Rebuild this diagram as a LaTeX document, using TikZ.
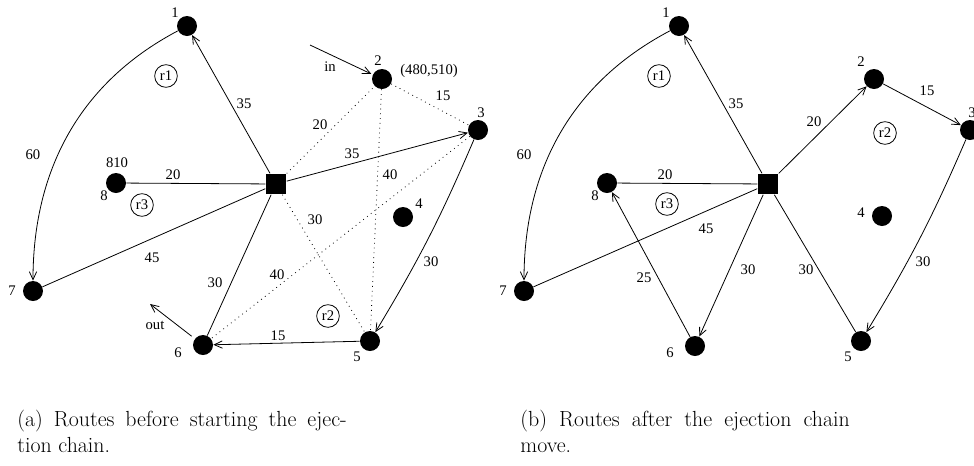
\documentclass[tikz,border=0pt]{standalone}
\usepackage{fontspec}
\newfontfamily\labelfont{Liberation Serif}
\usetikzlibrary{arrows.meta}

\tikzset{every picture/.style={line width=0.6pt},
  client/.style={circle,fill=black,inner sep=0pt,minimum size=15pt},
  depot/.style={rectangle,fill=black,inner sep=0pt,minimum size=15.5pt},
  routename/.style={circle,draw,inner sep=0pt,minimum size=17pt,font=\labelfont\fontsize{11}{13}\selectfont},
  lbl/.style={inner sep=0.75pt,font=\labelfont\fontsize{11}{13}\selectfont},
  arc/.style={-{Straight Barb[length=6pt,width=5.5pt]}},
  cand/.style={dash pattern={on 0.6pt off 3pt}},
  capt/.style={anchor=north west,inner sep=0pt,text width=247pt,align=justify,font=\fontsize{16.4}{19.5}\selectfont}}

\begin{document}
\begin{tikzpicture}[x=0.75pt,y=0.75pt,yscale=-1,xscale=1]
		\useasboundingbox (0,0) rectangle (974,465);
		
		%%% (a) before the move
		%Shape: Depot [id:dA]
		\node [depot] (dA) at (276,184) {};
		%Shape: Clients
		\node [client] (a1) at (187,26) {};
		\node [client] (a2) at (382,79) {};
		\node [client] (a3) at (478,130) {};
		\node [client] (a4) at (403,217) {};
		\node [client] (a5) at (370,341) {};
		\node [client] (a6) at (203,345) {};
		\node [client] (a7) at (33,291) {};
		\node [client] (a8) at (116,183) {};
		
		%Route r1
		\draw [arc] (dA) -- (a1) ;
		\draw [arc] (a1) to[out=148,in=270] (a7) ;
		\draw (a7) -- (dA) ;
		%Route r2
		\draw [arc] (dA) -- (a3) ;
		\draw [arc] (a3) to[bend right=4] (a5) ;
		\draw [arc] (a5) -- (a6) ;
		\draw (a6) -- (dA) ;
		%Route r3
		\draw (a8) -- (dA) ;
		%Candidate arcs for client 2
		\draw [cand] (dA) -- (a2) ;
		\draw [cand] (a2) -- (a3) ;
		\draw [cand] (a2) -- (a5) ;
		\draw [cand] (dA) -- (a5) ;
		\draw [cand] (a3) -- (a6) ;
		
		%Insertion and removal
		\coordinate (inA) at (310,45) ;
		\coordinate (outA) at (150,304) ;
		\draw [arc,shorten >=1pt] (inA) -- (a2) ;
		\draw [arc,shorten <=3pt] (a6) -- (outA) ;
		
		% Text Node
		\node [lbl] (ta1) at (175,13) {1};
		\node [lbl] (ta2) at (378,61) {2};
		\node [lbl] (tc2) at (429,71) {(480,510)};
		\node [lbl] (ta3) at (481,113) {3};
		\node [lbl] (ta4) at (419,204) {4};
		\node [lbl] (ta5) at (357,357) {5};
		\node [lbl] (ta6) at (178,353) {6};
		\node [lbl] (ta7) at (12,291) {7};
		\node [lbl] (ta8) at (104,196) {8};
		\node [lbl] (tc8) at (117,163) {810};
		\node [lbl] (tin) at (330,67) {in};
		\node [lbl] (tout) at (155,325) {out};
		% Arc costs
		\node [lbl] (ca1) at (244,104) {35};
		\node [lbl] (ca2) at (33,155) {60};
		\node [lbl] (ca3) at (152,258) {45};
		\node [lbl] (ca4) at (352,154) {35};
		\node [lbl] (ca5) at (431,262) {30};
		\node [lbl] (ca6) at (278,336) {15};
		\node [lbl] (ca7) at (215,283) {30};
		\node [lbl] (ca8) at (173,175) {20};
		\node [lbl] (ca9) at (320,125) {20};
		\node [lbl] (ca10) at (443,96) {15};
		\node [lbl] (ca11) at (390,175) {40};
		\node [lbl] (ca12) at (315,220) {30};
		\node [lbl] (ca13) at (277,275) {40};
		% Route names
		\node [routename] (ra1) at (166,76) {r1};
		\node [routename] (ra2) at (328,316) {r2};
		\node [routename] (ra3) at (142,205) {r3};
		
		%%% (b) after the move
		%Shape: Depot [id:dB]
		\node [depot] (dB) at (768,184) {};
		%Shape: Clients
		\node [client] (b1) at (679,26) {};
		\node [client] (b2) at (874,79) {};
		\node [client] (b3) at (970,130) {};
		\node [client] (b4) at (882,216) {};
		\node [client] (b5) at (861,341) {};
		\node [client] (b6) at (695,346) {};
		\node [client] (b7) at (524,291) {};
		\node [client] (b8) at (607,183) {};
		
		%Route r1
		\draw [arc] (dB) -- (b1) ;
		\draw [arc] (b1) to[out=148,in=270] (b7) ;
		\draw (b7) -- (dB) ;
		%Route r2
		\draw [arc] (dB) -- (b2) ;
		\draw [arc] (b2) -- (b3) ;
		\draw [arc] (b3) to[bend right=4] (b5) ;
		\draw (b5) -- (dB) ;
		%Route r3
		\draw [arc] (dB) -- (b6) ;
		\draw [arc] (b6) -- (b8) ;
		\draw (b8) -- (dB) ;
		
		% Text Node
		\node [lbl] (tb1) at (666,13) {1};
		\node [lbl] (tb2) at (861,62) {2};
		\node [lbl] (tb3) at (972,113) {3};
		\node [lbl] (tb4) at (861,213) {4};
		\node [lbl] (tb5) at (848,357) {5};
		\node [lbl] (tb6) at (670,353) {6};
		\node [lbl] (tb7) at (503,291) {7};
		\node [lbl] (tb8) at (595,196) {8};
		% Arc costs
		\node [lbl] (cb1) at (736,104) {35};
		\node [lbl] (cb2) at (524,155) {60};
		\node [lbl] (cb3) at (706,229) {45};
		\node [lbl] (cb4) at (814,122) {20};
		\node [lbl] (cb5) at (927,91) {15};
		\node [lbl] (cb6) at (923,262) {30};
		\node [lbl] (cb7) at (806,270) {30};
		\node [lbl] (cb8) at (748,270) {30};
		\node [lbl] (cb9) at (644,278) {25};
		\node [lbl] (cb10) at (665,175) {20};
		% Route names
		\node [routename] (rb1) at (659,76) {r1};
		\node [routename] (rb2) at (885,133) {r2};
		\node [routename] (rb3) at (667,204) {r3};
		
		%Captions
		\node [capt] (capA) at (17,410) {(a) Routes before starting the ejec-\linebreak tion chain.};
		\node [capt] (capB) at (520,410) {(b) Routes after the ejection chain\linebreak move.};
		
	\end{tikzpicture}
\end{document}
